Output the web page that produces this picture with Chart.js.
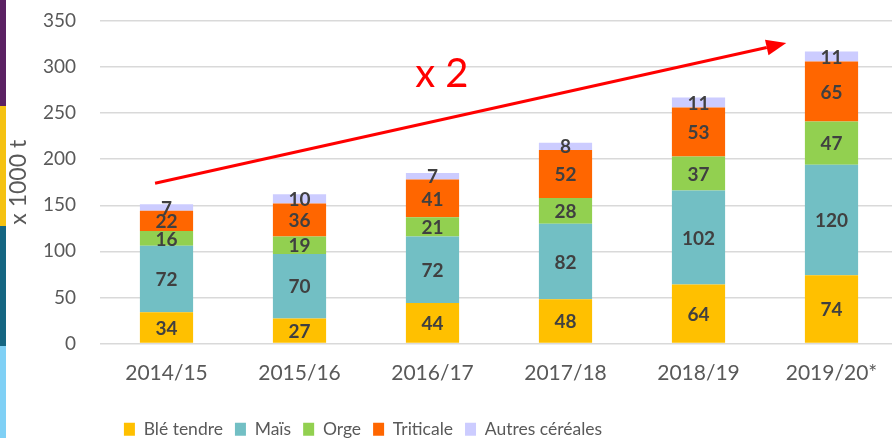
<!DOCTYPE html>
<html>
<head>
<meta charset="utf-8">
<script src="https://cdn.jsdelivr.net/npm/chart.js@4"></script>
<style>
  html, body { margin: 0; padding: 0; background: #fff; overflow: hidden; }
  #wrap { position: relative; width: 900px; height: 438px; }
  .strip { position: absolute; left: 0; width: 6px; }
</style>
</head>
<body>
<div id="wrap">
  <div class="strip" style="top:0;height:106px;background:#5b2163"></div>
  <div class="strip" style="top:106px;height:120px;background:#f5c211"></div>
  <div class="strip" style="top:226px;height:120px;background:#156682"></div>
  <div class="strip" style="top:346px;height:92px;background:#7fd0f5"></div>
  <canvas id="chart" width="900" height="438"></canvas>
</div>
<script>
const campagnes = ['2014/15', '2015/16', '2016/17', '2017/18', '2018/19', '2019/20*'];
const bleTendre = [34, 27, 44, 48, 64, 74];
const mais = [72, 70, 72, 82, 102, 120];
const orge = [16, 19, 21, 28, 37, 47];
const triticale = [22, 36, 41, 52, 53, 65];
const autres = [7, 10, 7, 8, 11, 11];
const yTicks = [0, 50, 100, 150, 200, 250, 300, 350];

// trend arrow, in axis units (category index, value)
const arrowFrom = [-0.086, 174];
const arrowTo = [4.66, 326];
const arrowLabel = { text: 'x 2', at: [2.07, 292] };

const FONT = 'Lato, "Liberation Sans", sans-serif';

const valueLabels = {
  id: 'valueLabels',
  afterDatasetsDraw(chart) {
    const ctx = chart.ctx;
    ctx.save();
    ctx.font = 'bold 19px ' + FONT;
    ctx.fillStyle = '#404040';
    ctx.textAlign = 'center';
    ctx.textBaseline = 'middle';
    chart.data.datasets.forEach((ds, i) => {
      chart.getDatasetMeta(i).data.forEach((bar, j) => {
        ctx.fillText(String(ds.data[j]), bar.x, (bar.y + bar.base) / 2 + 1);
      });
    });
    ctx.restore();
  }
};

const trendArrow = {
  id: 'trendArrow',
  afterDatasetsDraw(chart) {
    const { ctx, scales: { x, y } } = chart;
    const x0 = x.getPixelForValue(arrowFrom[0]), y0 = y.getPixelForValue(arrowFrom[1]);
    const x1 = x.getPixelForValue(arrowTo[0]), y1 = y.getPixelForValue(arrowTo[1]);
    const ang = Math.atan2(y1 - y0, x1 - x0);
    const head = 20, half = 8;
    ctx.save();
    ctx.strokeStyle = '#ff0000';
    ctx.fillStyle = '#ff0000';
    ctx.lineWidth = 3;
    ctx.beginPath();
    ctx.moveTo(x0, y0);
    ctx.lineTo(x1 - head * Math.cos(ang), y1 - head * Math.sin(ang));
    ctx.stroke();
    ctx.beginPath();
    ctx.moveTo(x1, y1);
    ctx.lineTo(x1 - head * Math.cos(ang) + half * Math.sin(ang), y1 - head * Math.sin(ang) - half * Math.cos(ang));
    ctx.lineTo(x1 - head * Math.cos(ang) - half * Math.sin(ang), y1 - head * Math.sin(ang) + half * Math.cos(ang));
    ctx.closePath();
    ctx.fill();
    ctx.font = '40px ' + FONT;
    ctx.textAlign = 'center';
    ctx.textBaseline = 'middle';
    ctx.fillText(arrowLabel.text, x.getPixelForValue(arrowLabel.at[0]), y.getPixelForValue(arrowLabel.at[1]));
    ctx.restore();
  }
};

// move the legend to where it sits in the original
const legendShift = {
  id: 'legendShift',
  afterLayout(chart) {
    const l = chart.legend;
    const h = l.bottom - l.top;
    l.left = 0;
    l.right = 726;
    l.top = 438 - h + 10;
    l.bottom = l.top + h;
  }
};

new Chart(document.getElementById('chart'), {
  type: 'bar',
  data: {
    labels: campagnes,
    datasets: [
      { label: 'Blé tendre', data: bleTendre, backgroundColor: '#ffc000' },
      { label: 'Maïs', data: mais, backgroundColor: '#72bfc4' },
      { label: 'Orge', data: orge, backgroundColor: '#92d050' },
      { label: 'Triticale', data: triticale, backgroundColor: '#ff6600' },
      { label: 'Autres céréales', data: autres, backgroundColor: '#ccccff' }
    ]
  },
  options: {
    responsive: false,
    animation: false,
    layout: { padding: { top: 21, right: 2, left: 0, bottom: 0 } },
    datasets: { bar: { categoryPercentage: 1, barPercentage: 0.4 } },
    scales: {
      x: {
        stacked: true,
        grid: { display: false, drawTicks: false },
        border: { display: false },
        ticks: { color: '#595959', font: { family: FONT, size: 21 }, padding: 17 },
        afterFit: (s) => { s.height = 55; }
      },
      y: {
        stacked: true,
        min: 0,
        max: 350,
        afterBuildTicks: (s) => { s.ticks = yTicks.map((v) => ({ value: v })); },
        grid: { color: '#d9d9d9', lineWidth: 1.5, drawTicks: false },
        border: { display: false },
        ticks: { color: '#595959', font: { family: FONT, size: 19 }, padding: 24 },
        title: {
          display: true,
          text: 'x 1000 t',
          color: '#595959',
          font: { family: FONT, size: 23 },
          padding: { top: 5, bottom: 0 }
        },
        afterFit: (s) => { s.width = 100; s.paddingTop = 0; s.paddingBottom = 0; }
      }
    },
    plugins: {
      legend: {
        position: 'bottom',
        labels: {
          color: '#595959',
          font: { family: FONT, size: 17.5 },
          boxWidth: 11,
          boxHeight: 13,
          padding: 12
        }
      },
      tooltip: { enabled: false }
    }
  },
  plugins: [valueLabels, trendArrow, legendShift]
});
</script>
</body>
</html>
